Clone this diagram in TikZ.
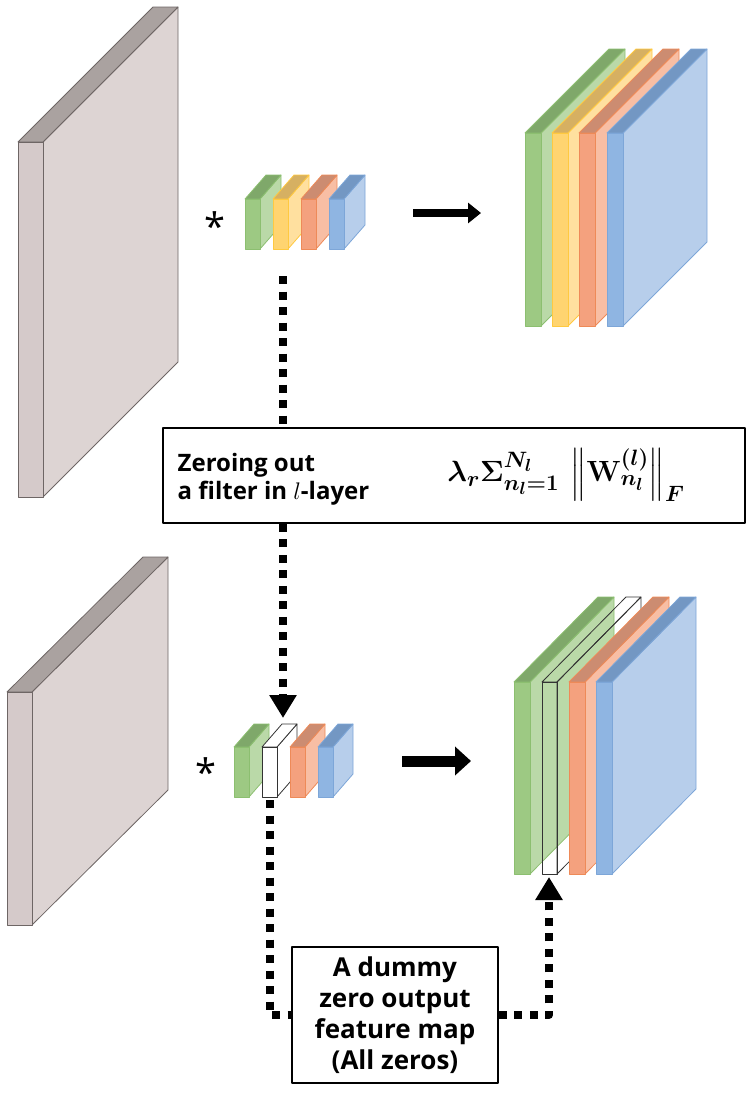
\RequirePackage{fix-cm}
\documentclass[tikz,border=0pt]{standalone}
\usepackage{amsmath}
\usepackage[no-math]{fontspec}
\setmainfont{Open Sans}
\usetikzlibrary{arrows.meta}
\DeclareMathSizes{25}{25}{19}{15}

\definecolor{slbF}{HTML}{D5CACA}
\definecolor{slbS}{HTML}{DDD4D3}
\definecolor{slbT}{HTML}{AAA2A0}
\definecolor{slbL}{HTML}{6E6665}
\definecolor{grnF}{HTML}{9DC983}
\definecolor{grnS}{HTML}{BAD9A8}
\definecolor{grnT}{HTML}{7FA86A}
\definecolor{grnL}{HTML}{8CBF70}
\definecolor{ylwF}{HTML}{FFD470}
\definecolor{ylwS}{HTML}{FFE09F}
\definecolor{ylwT}{HTML}{D6B062}
\definecolor{ylwL}{HTML}{FFC940}
\definecolor{orgF}{HTML}{F4A17E}
\definecolor{orgS}{HTML}{F8BEA4}
\definecolor{orgT}{HTML}{CC8C71}
\definecolor{orgL}{HTML}{EE8A58}
\definecolor{bluF}{HTML}{8FB5E2}
\definecolor{bluS}{HTML}{B7CEEB}
\definecolor{bluT}{HTML}{7397C3}
\definecolor{bluL}{HTML}{7DA6D8}
\definecolor{whtF}{HTML}{FFFFFF}
\definecolor{whtS}{HTML}{FFFFFF}
\definecolor{whtT}{HTML}{FFFFFF}
\definecolor{whtL}{HTML}{333333}

% x, y (top of front face), width, height, depth dx, depth dy, colour prefix
\newcommand{\cube}[7]{%
  \filldraw[draw=#7L,fill=#7S] (#1+#3,#2) -- ++(#5,-#6) -- ++(0,#4) -- ++(-#5,#6) -- cycle;
  \filldraw[draw=#7L,fill=#7T] (#1,#2) -- ++(#5,-#6) -- ++(#3,0) -- ++(-#5,#6) -- cycle;
  \filldraw[draw=#7L,fill=#7F] (#1,#2) rectangle ++(#3,#4);
}
\newsavebox{\regbox}

\begin{document}
\sbox{\regbox}{\fontsize{25}{25}\selectfont\boldmath$\lambda_r\Sigma_{n_l=1}^{N_l}\,\left\Vert\mathbf{W}_{n_l}^{(l)}\right\Vert_F$}%
\begin{tikzpicture}[x=1pt,y=-1pt,line join=round,line width=0.8pt,
  dotline/.style={line width=8pt,dash pattern=on 8pt off 7.5pt},
  dothead/.style={-{Triangle[length=23pt,width=26pt]}},
  txtbox/.style={draw,line width=1.5pt,inner sep=0pt},
  convsign/.style={font=\fontsize{38}{38}\selectfont}]

\useasboundingbox (0,0) rectangle (750,1093);

% input feature maps
\cube{18}{142}{25}{355}{135}{135}{slb}
\cube{7}{692}{25}{233}{136}{135}{slb}

% filters and outputs, top row
\foreach \x/\c in {245/grn,273/ylw,301/org,329/blu}{
\cube{\x}{199}{15}{50}{21}{24}{\c}
}
\foreach \x/\c in {525/grn,552/ylw,579/org,607/blu}{
\cube{\x}{133}{16}{193}{84}{84}{\c}
}

% filters and outputs, bottom row
\foreach \x/\c in {234/grn,262/wht,290/org,318/blu}{
\cube{\x}{747}{15}{50}{20}{23}{\c}
}
\cube{514}{682}{16}{192}{84}{85}{grn}
\begin{scope}[draw=whtL]
\draw (557,682) -- ++(84,-85) -- ++(0,192) -- ++(-84,85) -- cycle;
\draw (542,682) -- ++(84,-85) -- ++(15,0) -- ++(-84,85) -- cycle;
\draw (542,682) rectangle ++(15,192);
\end{scope}
\cube{569}{682}{16}{192}{84}{85}{org}
\cube{596}{682}{16}{192}{84}{85}{blu}

\node[convsign] (convtop) at (215,226) {*};
\node[convsign] (convbot) at (206,772) {*};

\coordinate (atopS) at (413,213);
\coordinate (atopE) at (481,213);
\coordinate (abotS) at (402,761);
\coordinate (abotE) at (471,761);
\draw[line width=8pt,-{Triangle[length=13pt,width=20pt]}] (atopS) -- (atopE);
\draw[line width=11pt,-{Triangle[length=16pt,width=28pt]}] (abotS) -- (abotE);

% text boxes
\node[txtbox,minimum width=582pt,minimum height=95pt] (zerobox) at (454,475.5) {};
\node[anchor=west,align=left,font=\bfseries\fontsize{24}{28}\selectfont] (zerotxt) at (174,479) {Zeroing out\\a filter in $l$-layer};
\node[inner sep=0pt] (regterm) at (566,475) {\scalebox{1.17}{\usebox{\regbox}}};

\node[txtbox,minimum width=206pt,minimum height=136pt,align=center,font=\bfseries\fontsize{26}{31}\selectfont] (dummybox) at (395,1015) {A dummy\\zero output\\feature map\\(All zeros)};

% dotted connectors
\coordinate (zsrc) at (283,276);
\coordinate (zdst) at (283,718);
\coordinate (wsrc) at (270,800);
\coordinate (wdst) at (549,877);
\draw[dotline] (zsrc) -- (zsrc |- zerobox.north);
\draw[dotline,dothead] (zsrc |- zerobox.south) -- (zdst);
\draw[dotline] (wsrc) |- (dummybox.west);
\draw[dotline,dothead] (dummybox.east) -| (wdst);
\end{tikzpicture}
\end{document}
